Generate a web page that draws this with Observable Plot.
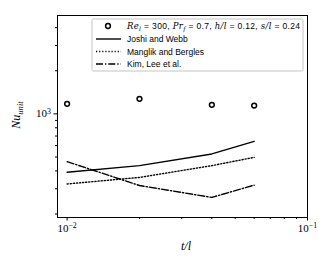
<!DOCTYPE html>
<html>
<head>
<meta charset="utf-8">
<script src="https://cdn.jsdelivr.net/npm/d3@7"></script>
<script src="https://cdn.jsdelivr.net/npm/@observablehq/plot@0.6"></script>
<style>
html,body{margin:0;padding:0;background:#fff;}
</style>
</head>
<body>
<div id="chart"></div>
<script>
// ---- data ----
const tl = [0.01, 0.02, 0.04, 0.06];
const nuData = [1175, 1273, 1156, 1143];
const joshiWebb = [391, 435, 525, 643];
const manglikBergles = [324, 360, 435, 497];
const kimLee = [464, 316, 261, 318];

const xMajor = [0.01, 0.1];
const xMinor = [0.02, 0.03, 0.04, 0.05, 0.06, 0.07, 0.08, 0.09];
const yMajor = [1000];
const yMinor = [200, 300, 400, 500, 600, 700, 800, 900, 2000, 3000, 4000];

const seriesNames = ["Joshi and Webb", "Manglik and Bergles", "Kim, Lee et al."];
const seriesValues = [joshiWebb, manglikBergles, kimLee];
const dashes = [null, "1.2,1.9", "7,2,1.3,2"];

const points = tl.map((t, i) => ({t, nu: nuData[i]}));
const lineRows = seriesNames.flatMap((s, k) => tl.map((t, i) => ({s, t, nu: seriesValues[k][i]})));

const serif = "'Liberation Serif', 'DejaVu Serif', serif";
const mathFont = "'DejaVu Serif', serif";
const sans = "'Liberation Sans', Arial, sans-serif";

const svg = Plot.plot({
  width: 335, height: 268,
  marginLeft: 57, marginRight: 28, marginTop: 15, marginBottom: 51,
  style: {background: "white", fontFamily: serif, color: "black"},
  x: {type: "log", domain: [Math.pow(10, -2.04), 0.1]},
  y: {type: "log", domain: [189, 4860]},
  marks: [
    Plot.axisX({ticks: xMinor, tickSize: 2, tickFormat: () => "", label: null}),
    Plot.axisX({ticks: xMajor, tickSize: 3.5, tickPadding: 3, fontSize: 11,
      tickFormat: d => "10^" + Math.round(Math.log10(d)), label: null}),
    Plot.axisY({ticks: yMinor, tickSize: 2, tickFormat: () => "", label: null}),
    Plot.axisY({ticks: yMajor, tickSize: 3.5, tickPadding: 3, fontSize: 11,
      tickFormat: d => "10^" + Math.round(Math.log10(d)), label: null}),
    ...seriesNames.map((s, k) => Plot.line(lineRows.filter(r => r.s === s), {
      x: "t", y: "nu", stroke: "black", strokeWidth: 1.4,
      strokeDasharray: dashes[k] || undefined
    })),
    Plot.dot(points, {x: "t", y: "nu", r: 2.4, stroke: "black", strokeWidth: 1.5, fill: "none"}),
    Plot.frame({stroke: "black", strokeWidth: 1})
  ]
});

// superscript tick labels
d3.select(svg).selectAll('g[aria-label$="tick label"] text').each(function() {
  const t = this.textContent;
  if (!t.includes("^")) return;
  const [base, exp] = t.split("^");
  const sel = d3.select(this);
  sel.text(base);
  sel.append("tspan").attr("dy", "-0.45em").attr("font-size", "0.72em")
    .text(exp.replace("-", "\u2212"));
});

const root = d3.select(svg);
// axis labels
root.append("text").attr("x", 186).attr("y", 250).attr("text-anchor", "middle")
  .attr("font-family", serif).attr("font-style", "italic").attr("font-size", 12).text("t/l");
const yl = root.append("text").attr("transform", "translate(20,115) rotate(-90)")
  .attr("text-anchor", "middle").attr("font-family", serif).attr("font-style", "italic").attr("font-size", 12);
yl.append("tspan").text("Nu");
yl.append("tspan").attr("dy", "0.3em").attr("font-size", "0.72em").text("unit");

// legend
const lg = root.append("g").attr("text-anchor", "start");
lg.append("rect").attr("x", 92).attr("y", 19).attr("width", 211).attr("height", 52)
  .attr("rx", 1.5).attr("fill", "white").attr("stroke", "#c4c4c4").attr("stroke-width", 1);
const rowY = [26, 39, 51.5, 64];
lg.append("circle").attr("cx", 108).attr("cy", rowY[0]).attr("r", 2.4)
  .attr("fill", "none").attr("stroke", "black").attr("stroke-width", 1.5);
const t0 = lg.append("text").attr("x", 127).attr("y", rowY[0] + 3).attr("font-size", 8.5)
  .attr("font-family", sans).attr("textLength", 173).attr("lengthAdjust", "spacing");
const parts = [["Re", 1], ["l", 2], [" = 300, ", 0], ["Pr", 1], ["f", 2], [" = 0.7, ", 0], ["h/l", 1], [" = 0.12, ", 0], ["s/l", 1], [" = 0.24", 0]];
parts.forEach(([s, kind], i) => {
  const ts = t0.append("tspan").text(s);
  if (kind >= 1) ts.attr("font-family", mathFont).attr("font-style", "italic").attr("font-size", kind === 2 ? 6 : 8.5);
  if (kind === 2) ts.attr("dy", "1.5");
  const prev = parts[i - 1];
  if (prev && prev[1] === 2) ts.attr("dy", "-1.5");
});
seriesNames.forEach((s, k) => {
  const y = rowY[k + 1];
  lg.append("line").attr("x1", 96).attr("x2", 121).attr("y1", y).attr("y2", y)
    .attr("stroke", "black").attr("stroke-width", 1.4).attr("stroke-dasharray", dashes[k]);
  lg.append("text").attr("x", 127).attr("y", y + 3).attr("font-size", 8.5).attr("font-family", sans).text(s);
});

document.getElementById("chart").append(svg);
</script>
</body>
</html>
